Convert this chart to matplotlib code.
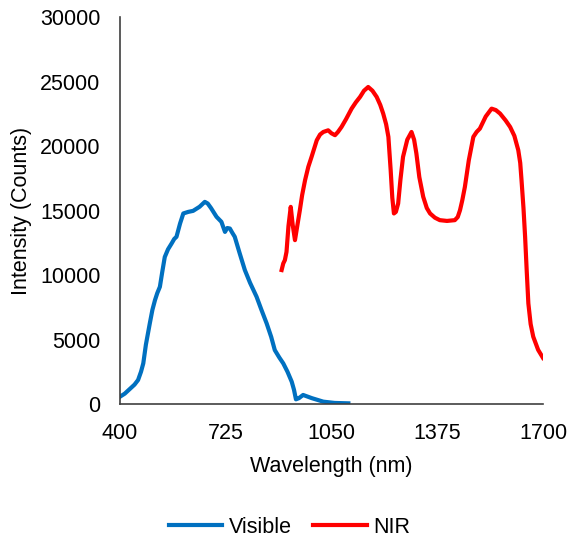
import matplotlib
matplotlib.use("Agg")
import matplotlib.pyplot as plt

plt.rcParams['font.family'] = ['Liberation Sans', 'DejaVu Sans']

# Visible spectrometer
vis_wl = [400, 415, 430, 445, 456, 465, 472, 480, 492, 500, 508, 515, 523, 530,
          538, 548, 559, 567, 574, 585, 595, 610, 625, 645, 661, 670, 680, 697,
          712, 718, 723, 730, 738, 745, 753, 768, 784, 800, 820, 835, 851, 865,
          876, 890, 902, 915, 928, 935, 941, 950, 963, 990, 1025, 1060, 1102]
vis_counts = [560, 800, 1150, 1500, 1860, 2500, 3150, 4600, 6250, 7300, 8060,
              8600, 9090, 10200, 11400, 12000, 12450, 12800, 12970, 14000, 14780,
              14900, 14980, 15300, 15680, 15550, 15200, 14520, 14130, 13700, 13350,
              13650, 13610, 13300, 12970, 11700, 10390, 9400, 8320, 7300, 6250,
              5200, 4180, 3600, 3150, 2500, 1730, 1100, 360, 450, 700, 450, 180, 80,
              50]

# NIR spectrometer
nir_wl = [897, 902, 907, 912, 918, 925, 931, 938, 945, 953, 960, 969, 979, 989,
          1005, 1015, 1025, 1040, 1050, 1061, 1070, 1081, 1095, 1112, 1125, 1138,
          1150, 1163, 1176, 1189, 1200, 1209, 1218, 1225, 1232, 1237, 1242, 1248,
          1255, 1262, 1270, 1283, 1296, 1304, 1311, 1320, 1332, 1343, 1353, 1368,
          1383, 1405, 1429, 1438, 1445, 1452, 1460, 1472, 1486, 1496, 1506, 1524,
          1542, 1555, 1568, 1585, 1599, 1612, 1624, 1630, 1634, 1640, 1645, 1650,
          1655, 1662, 1670, 1685, 1700]
nir_counts = [10390, 10900, 11160, 11800, 13800, 15290, 13900, 12710, 13800, 15030,
              16200, 17360, 18400, 19170, 20460, 20900, 21100, 21230, 21000, 20850,
              21100, 21490, 22100, 22910, 23400, 23820, 24300, 24590, 24300, 23820,
              23200, 22530, 21700, 20720, 18140, 16000, 14780, 14900, 15550, 17400,
              19170, 20500, 21100, 20500, 19430, 17600, 16070, 15200, 14780, 14450,
              14260, 14200, 14260, 14500, 15030, 15800, 16840, 18900, 20720, 21100,
              21360, 22300, 22910, 22800, 22530, 22000, 21490, 20800, 19690, 18700,
              17360, 15200, 12970, 10300, 7800, 6200, 5220, 4200, 3570]

fig = plt.figure(figsize=(5.68, 5.39), dpi=100)
ax = fig.add_axes([0.211, 0.2505, 0.745, 0.7175])

ax.plot(vis_wl, vis_counts, color='#0070C0', lw=3, label='Visible')
ax.plot(nir_wl, nir_counts, color='#FF0000', lw=3, label='NIR')

ax.set_xlim(400, 1700)
ax.set_ylim(0, 30000)
ax.set_xticks([400, 725, 1050, 1375, 1700])
ax.set_yticks(range(0, 30001, 5000))
ax.tick_params(length=0, labelsize=15.5, pad=14, colors='black')
ax.spines['top'].set_visible(False)
ax.spines['right'].set_visible(False)
for s in ('left', 'bottom'):
    ax.spines[s].set_color('#404040')
    ax.spines[s].set_linewidth(1.2)

ax.set_xlabel('Wavelength (nm)', fontsize=15.5, labelpad=8)
ax.set_ylabel('Intensity (Counts)', fontsize=15.5, labelpad=6)

fig.legend(loc='center', bbox_to_anchor=(0.51, 0.022), ncol=2, frameon=False,
           fontsize=15.5, handlelength=2.5, columnspacing=1.0, handletextpad=0.3)

fig.savefig('out.png', dpi=100)
